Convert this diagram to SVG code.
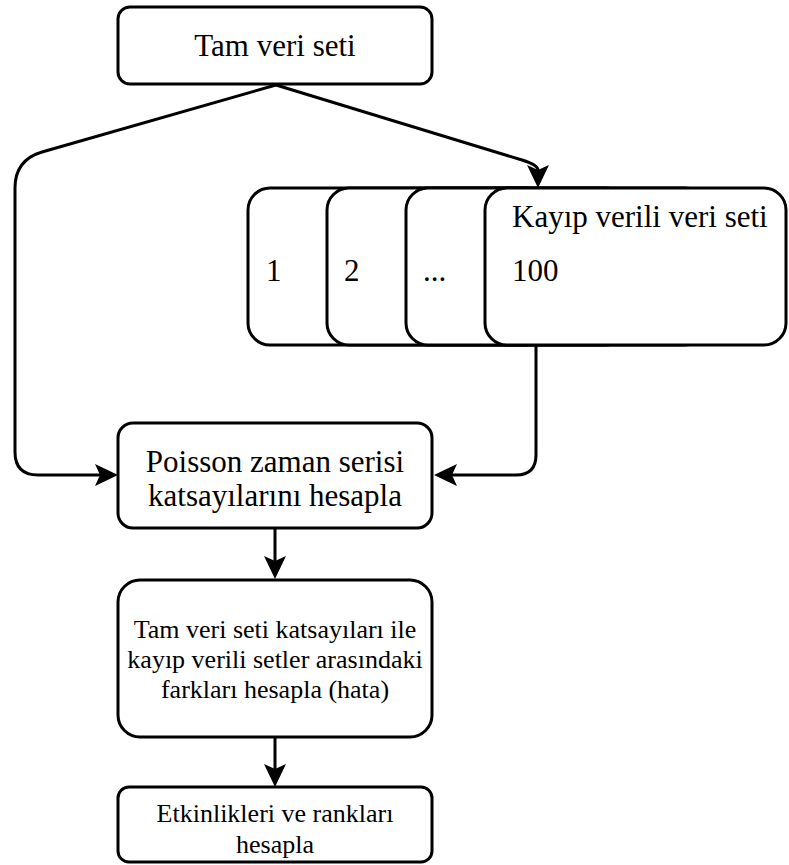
<svg xmlns="http://www.w3.org/2000/svg" width="789" height="865" viewBox="0 0 789 865">
<style>
.box{fill:#fff;stroke:#000;stroke-width:3}
.t31{font-family:"Liberation Serif","Times New Roman",serif;font-size:31px;fill:#000}
.t26{font-family:"Liberation Serif","Times New Roman",serif;font-size:26px;fill:#000}
.c{text-anchor:middle}
.edge{fill:none;stroke:#000;stroke-width:3}
</style>
<defs>
<marker id="arr" markerUnits="userSpaceOnUse" viewBox="0 0 23 22" refX="5" refY="11" markerWidth="23" markerHeight="22" orient="auto" overflow="visible">
<path d="M23,11 L0,0 L5,11 L0,22 Z" fill="#000"/>
</marker>
</defs>
<rect width="789" height="865" fill="#fff"/>
<g id="connectors">
<path class="edge" d="M276,85 L42,152 Q15,160 15,188 L15,452 Q15,475 38,475 L100,475" marker-end="url(#arr)"/>
<path class="edge" d="M276,85 L522,160 Q538,165 538,170" marker-end="url(#arr)"/>
<path class="edge" d="M536,345 L536,455 Q536,475 516,475 L452,475" marker-end="url(#arr)"/>
<path class="edge" d="M275,528 L275,561" marker-end="url(#arr)"/>
<path class="edge" d="M275,737 L275,769" marker-end="url(#arr)"/>
</g>
<g id="n-full">
<rect class="box" x="118" y="7" width="314" height="77" rx="12"/>
<text class="t31 c" x="275" y="56">Tam veri seti</text>
</g>
<g id="n-set1">
<rect class="box" x="248" y="188" width="301" height="157" rx="22"/>
<text class="t31" x="266" y="281">1</text>
</g>
<g id="n-set2">
<rect class="box" x="327" y="188" width="301" height="157" rx="22"/>
<text class="t31" x="344" y="281">2</text>
</g>
<g id="n-set3">
<rect class="box" x="406" y="188" width="301" height="157" rx="22"/>
<text class="t31" x="423" y="281">...</text>
</g>
<g id="n-set100">
<rect class="box" x="485" y="188" width="301" height="157" rx="22"/>
<text class="t31" x="512" y="227">Kayıp verili veri seti</text>
<text class="t31" x="512" y="281">100</text>
</g>
<g id="n-poisson">
<rect class="box" x="118" y="423" width="314" height="105" rx="15"/>
<text class="t31 c" x="275" y="472">Poisson zaman serisi</text>
<text class="t31 c" x="275" y="506">katsayılarını hesapla</text>
</g>
<g id="n-diff">
<rect class="box" x="118" y="580" width="314" height="157" rx="22"/>
<text class="t26 c" x="275" y="638">Tam veri seti katsayıları ile</text>
<text class="t26 c" x="275" y="668">kayıp verili setler arasındaki</text>
<text class="t26 c" x="275" y="698">farkları hesapla (hata)</text>
</g>
<g id="n-rank">
<rect class="box" x="118" y="787" width="314" height="75" rx="11"/>
<text class="t26 c" x="275" y="822">Etkinlikleri ve rankları</text>
<text class="t26 c" x="275" y="853">hesapla</text>
</g>
</svg>
